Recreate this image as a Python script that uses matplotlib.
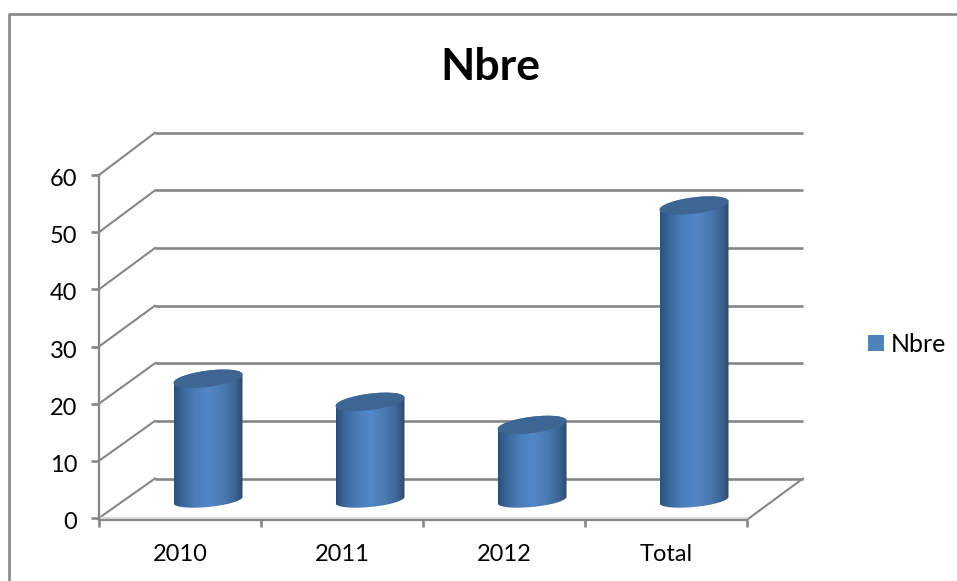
#!/usr/bin/env python3
# Excel style 3D cylinder chart, faked on a flat axes
import numpy as np
import matplotlib
matplotlib.use('Agg')
import matplotlib.pyplot as plt
from matplotlib.colors import LinearSegmentedColormap
from matplotlib.lines import Line2D
from matplotlib.patches import Patch, Polygon
from matplotlib.transforms import ScaledTranslation

#Data
categories = ['2010', '2011', '2012', 'Total']
values = [21, 17, 13, 51]
y_ticks = [0, 10, 20, 30, 40, 50, 60]
series_name = 'Nbre'

W, H = 957, 581
GRAY = '#868686'
plt.rcParams['font.family'] = ['Lato', 'DejaVu Sans']

fig = plt.figure(figsize=(W / 100, H / 100), dpi=100)
#Axes box in pixels: x 99-747, y 175-518
ax = fig.add_axes([99 / W, 1 - 518 / H, 648 / W, 343 / H])
ax.set_xlim(0, len(categories))
ax.set_ylim(0, 60)
ax.patch.set_alpha(0)

px_x = len(categories) / 648
px_y = 60 / 343
depth_x = 56 * px_x
depth_y = 39.5 * px_y
back_scale = 1.008

#Back wall gridlines plus the diagonals on the side wall
for v in y_ticks:
    yb = v * back_scale + depth_y
    ax.plot([depth_x, len(categories) + depth_x], [yb, yb], color=GRAY, lw=1.9,
            clip_on=False, zorder=1, solid_capstyle='butt')
    ax.plot([0, depth_x], [v, yb], color=GRAY, lw=1.5, clip_on=False, zorder=1)
#Floor edge on the right
ax.plot([len(categories), len(categories) + depth_x], [-0.3, depth_y],
        color=GRAY, lw=1.5, clip_on=False, zorder=1)

#Cylinders
cmap = LinearSegmentedColormap.from_list('cyl', [(0, '#2c5079'), (0.12, '#3a669b'), (0.3, '#4a7cb8'),
                                                 (0.5, '#5487c8'), (0.72, '#4a7ab3'), (0.9, '#3a6391'),
                                                 (1, '#2a4a70')])
grad = np.linspace(0, 1, 200).reshape(1, -1)
half_w = 34.5 * px_x
base = 18 * px_y
t = np.linspace(0, 2 * np.pi, 121)

for i, v in enumerate(values):
    cx = i + 0.5 + depth_x / 2
    top = base + v * back_scale * 1.002
    #tilted ellipses, the right side sits higher
    top_x = cx + half_w * np.cos(t)
    top_y = top + (4.2 * np.cos(t) + 8.2 * np.sin(t)) * px_y

    #outline: bottom half of the base ellipse, then the top half of the lid
    low = t[60:121]
    up = t[0:61]
    ox = np.r_[cx + half_w * np.cos(low), cx + half_w * np.cos(up)]
    oy = np.r_[base + (3.2 * np.cos(low) + 7 * np.sin(low)) * px_y,
               top + (4.2 * np.cos(up) + 8.2 * np.sin(up)) * px_y]
    body = Polygon(np.c_[ox, oy], closed=True, transform=ax.transData, fc='none', ec='none')
    ax.add_patch(body)
    im = ax.imshow(grad, cmap=cmap, aspect='auto', zorder=3, interpolation='bilinear',
                   extent=[cx - half_w, cx + half_w, base - 2, top + 2])
    im.set_clip_path(body)
    ax.fill(top_x, top_y, color='#3e6695', zorder=4, lw=0)

ax.set_xlim(0, len(categories))
ax.set_ylim(0, 60)

#Axes and ticks
for side in ['top', 'right']:
    ax.spines[side].set_visible(False)
for side in ['left', 'bottom']:
    ax.spines[side].set_color(GRAY)
    ax.spines[side].set_linewidth(1.6)
ax.spines['bottom'].set_position(('outward', 1.5))
ax.plot([0, len(categories)], [0, 0], color='#dcdcdc', lw=1.6, clip_on=False, zorder=2)

ax.set_yticks(y_ticks)
ax.tick_params(axis='y', length=5.8, width=1.9, color=GRAY, pad=10, labelsize=17, labelcolor='black')
ax.set_xticks(range(len(categories) + 1))
ax.set_xticklabels([])
ax.set_xticks(np.arange(len(categories)) + 0.5, categories, minor=True)
ax.tick_params(axis='x', which='major', length=5, width=1.9, color=GRAY)
ax.tick_params(axis='x', which='minor', length=0, pad=17, labelsize=17, labelcolor='black')
#y labels sit a little under their ticks in the original
label_shift = ScaledTranslation(0, -2.5 / 100, fig.dpi_scale_trans)
for lab in ax.get_yticklabels():
    lab.set_transform(lab.get_transform() + label_shift)

fig.suptitle(series_name, x=490 / W, y=1 - 67 / H, va='center', ha='center',
             fontsize=32, fontweight='bold', color='black')

#Legend
handle = Patch(facecolor='#4f81bd', edgecolor='none', label=series_name)
fig.legend(handles=[handle], loc='center left', bbox_to_anchor=(868 / W, 1 - 344 / H),
           frameon=False, fontsize=18, borderpad=0, borderaxespad=0,
           handlelength=0.64, handleheight=0.6, handletextpad=0.28)

#Chart frame, only top and left are in the crop
fig.add_artist(Line2D([9 / W, 9 / W, 1], [0, 1 - 14 / H, 1 - 14 / H], color=GRAY, lw=1.9))

fig.savefig('out.png', dpi=100)
